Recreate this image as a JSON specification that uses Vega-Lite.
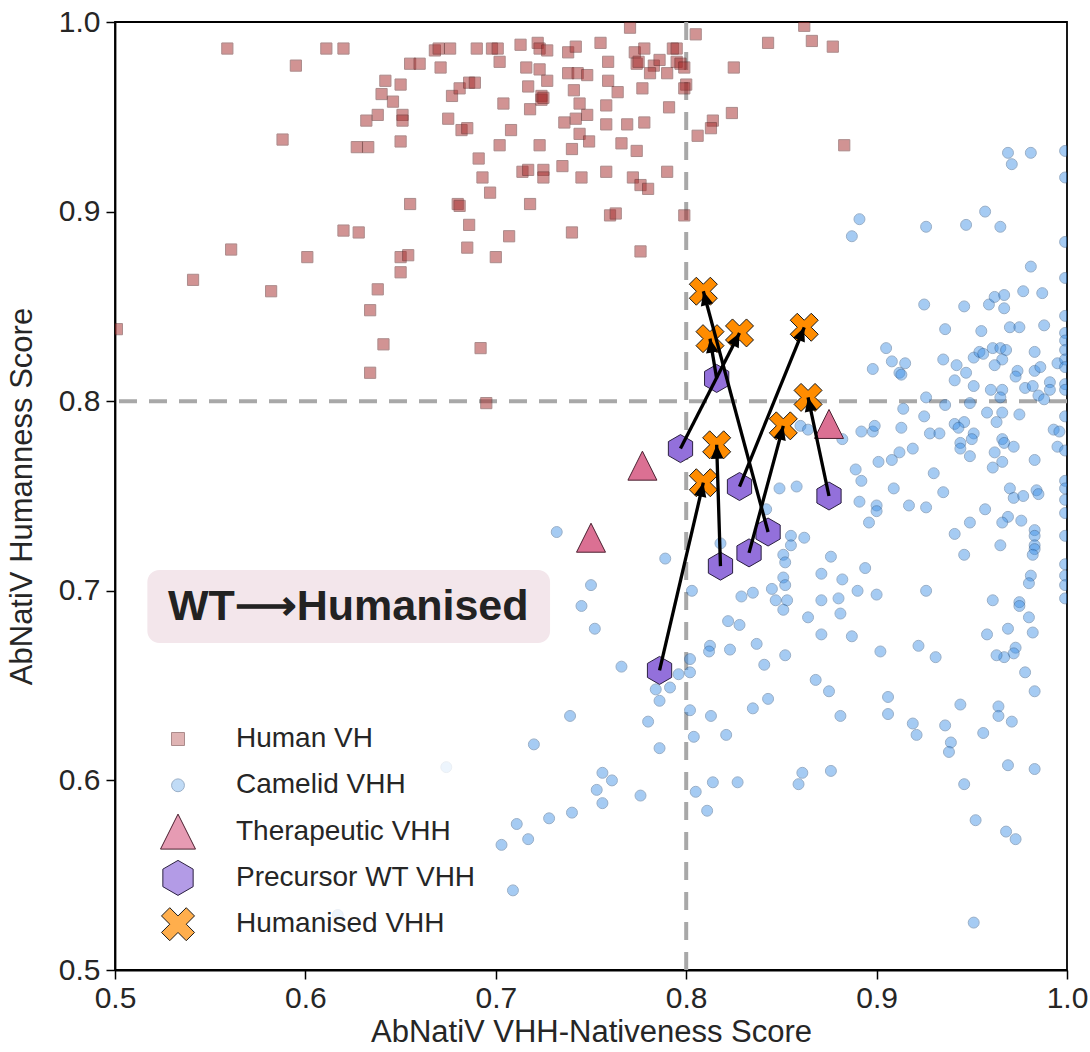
{
"$schema":"https://vega.github.io/schema/vega-lite/v6.json",
"width":952,"height":948,
"autosize":{"type":"none"},
"padding":{"left":115,"top":22,"right":23,"bottom":82},
"background":"white",
"config":{
 "view":{"stroke":"#000000","strokeWidth":1.8},
 "font":"Liberation Sans",
 "axis":{"grid":false,"labelFont":"Liberation Sans","labelFontSize":30,"labelColor":"#262626","titleFont":"Liberation Sans","titleFontSize":31,"titleFontWeight":"normal","titleColor":"#262626","tickColor":"#000000","tickSize":9,"tickWidth":1.5,"domainColor":"#000000","domainWidth":1.8,"labelFlush":false,"labelOverlap":false},
 "legend":{"labelFont":"Liberation Sans","labelFontSize":28,"labelColor":"#262626","fillColor":"rgba(255,255,255,0.8)","padding":12,"rowPadding":9.3,"labelOffset":40,"symbolStrokeWidth":1,"labelLimit":400,"gridAlign":"all","clipHeight":37}
},
"datasets":{
"arrows":[
{"wx":0.786,"wy":0.658,"hx":0.809,"hy":0.757},
{"wx":0.818,"wy":0.713,"hx":0.816,"hy":0.777},
{"wx":0.833,"wy":0.720,"hx":0.851,"hy":0.787},
{"wx":0.843,"wy":0.731,"hx":0.809,"hy":0.858},
{"wx":0.828,"wy":0.755,"hx":0.862,"hy":0.839},
{"wx":0.797,"wy":0.775,"hx":0.828,"hy":0.836},
{"wx":0.875,"wy":0.750,"hx":0.864,"hy":0.802},
{"wx":0.816,"wy":0.812,"hx":0.8125,"hy":0.833}
],
"points":[
{"group":"Human VH","x":0.559,"y":0.986},{"group":"Human VH","x":0.611,"y":0.986},{"group":"Human VH","x":0.620,"y":0.986},{"group":"Human VH","x":0.595,"y":0.977},{"group":"Human VH","x":0.668,"y":0.985},{"group":"Human VH","x":0.670,"y":0.986},{"group":"Human VH","x":0.676,"y":0.986},{"group":"Human VH","x":0.690,"y":0.986},{"group":"Human VH","x":0.655,"y":0.978},{"group":"Human VH","x":0.660,"y":0.978},{"group":"Human VH","x":0.671,"y":0.976},{"group":"Human VH","x":0.642,"y":0.969},{"group":"Human VH","x":0.650,"y":0.967},{"group":"Human VH","x":0.640,"y":0.962},{"group":"Human VH","x":0.646,"y":0.958},{"group":"Human VH","x":0.677,"y":0.961},{"group":"Human VH","x":0.681,"y":0.965},{"group":"Human VH","x":0.686,"y":0.968},{"group":"Human VH","x":0.689,"y":0.968},{"group":"Human VH","x":0.638,"y":0.951},{"group":"Human VH","x":0.651,"y":0.951},{"group":"Human VH","x":0.651,"y":0.948},{"group":"Human VH","x":0.632,"y":0.948},{"group":"Human VH","x":0.675,"y":0.949},{"group":"Human VH","x":0.682,"y":0.943},{"group":"Human VH","x":0.685,"y":0.944},{"group":"Human VH","x":0.650,"y":0.937},{"group":"Human VH","x":0.588,"y":0.938},{"group":"Human VH","x":0.627,"y":0.934},{"group":"Human VH","x":0.633,"y":0.934},{"group":"Human VH","x":0.691,"y":0.928},{"group":"Human VH","x":0.693,"y":0.918},{"group":"Human VH","x":0.697,"y":0.910},{"group":"Human VH","x":0.655,"y":0.904},{"group":"Human VH","x":0.680,"y":0.904},{"group":"Human VH","x":0.681,"y":0.903},{"group":"Human VH","x":0.686,"y":0.893},{"group":"Human VH","x":0.685,"y":0.881},{"group":"Human VH","x":0.620,"y":0.890},{"group":"Human VH","x":0.628,"y":0.889},{"group":"Human VH","x":0.561,"y":0.880},{"group":"Human VH","x":0.601,"y":0.876},{"group":"Human VH","x":0.650,"y":0.876},{"group":"Human VH","x":0.654,"y":0.877},{"group":"Human VH","x":0.650,"y":0.868},{"group":"Human VH","x":0.541,"y":0.864},{"group":"Human VH","x":0.582,"y":0.858},{"group":"Human VH","x":0.638,"y":0.859},{"group":"Human VH","x":0.634,"y":0.848},{"group":"Human VH","x":0.641,"y":0.830},{"group":"Human VH","x":0.692,"y":0.828},{"group":"Human VH","x":0.634,"y":0.815},{"group":"Human VH","x":0.501,"y":0.838},{"group":"Human VH","x":0.695,"y":0.799},
{"group":"Human VH","x":0.7705,"y":0.997},{"group":"Human VH","x":0.805,"y":0.9935},{"group":"Human VH","x":0.862,"y":0.998},{"group":"Human VH","x":0.843,"y":0.989},{"group":"Human VH","x":0.866,"y":0.990},{"group":"Human VH","x":0.877,"y":0.987},{"group":"Human VH","x":0.825,"y":0.976},{"group":"Human VH","x":0.824,"y":0.952},{"group":"Human VH","x":0.814,"y":0.948},{"group":"Human VH","x":0.813,"y":0.944},{"group":"Human VH","x":0.806,"y":0.940},{"group":"Human VH","x":0.883,"y":0.935},{"group":"Human VH","x":0.698,"y":0.986},{"group":"Human VH","x":0.701,"y":0.986},{"group":"Human VH","x":0.713,"y":0.988},{"group":"Human VH","x":0.722,"y":0.989},{"group":"Human VH","x":0.723,"y":0.986},{"group":"Human VH","x":0.727,"y":0.985},{"group":"Human VH","x":0.738,"y":0.984},{"group":"Human VH","x":0.742,"y":0.987},{"group":"Human VH","x":0.755,"y":0.989},{"group":"Human VH","x":0.773,"y":0.984},{"group":"Human VH","x":0.778,"y":0.986},{"group":"Human VH","x":0.793,"y":0.986},{"group":"Human VH","x":0.795,"y":0.986},{"group":"Human VH","x":0.702,"y":0.979},{"group":"Human VH","x":0.716,"y":0.976},{"group":"Human VH","x":0.723,"y":0.975},{"group":"Human VH","x":0.727,"y":0.969},{"group":"Human VH","x":0.759,"y":0.979},{"group":"Human VH","x":0.774,"y":0.978},{"group":"Human VH","x":0.775,"y":0.979},{"group":"Human VH","x":0.783,"y":0.977},{"group":"Human VH","x":0.786,"y":0.980},{"group":"Human VH","x":0.795,"y":0.979},{"group":"Human VH","x":0.797,"y":0.978},{"group":"Human VH","x":0.799,"y":0.976},{"group":"Human VH","x":0.738,"y":0.973},{"group":"Human VH","x":0.743,"y":0.973},{"group":"Human VH","x":0.748,"y":0.972},{"group":"Human VH","x":0.781,"y":0.973},{"group":"Human VH","x":0.790,"y":0.973},{"group":"Human VH","x":0.717,"y":0.966},{"group":"Human VH","x":0.741,"y":0.964},{"group":"Human VH","x":0.759,"y":0.969},{"group":"Human VH","x":0.764,"y":0.963},{"group":"Human VH","x":0.777,"y":0.965},{"group":"Human VH","x":0.800,"y":0.967},{"group":"Human VH","x":0.799,"y":0.965},{"group":"Human VH","x":0.724,"y":0.961},{"group":"Human VH","x":0.724,"y":0.959},{"group":"Human VH","x":0.725,"y":0.960},{"group":"Human VH","x":0.704,"y":0.957},{"group":"Human VH","x":0.718,"y":0.954},{"group":"Human VH","x":0.744,"y":0.957},{"group":"Human VH","x":0.748,"y":0.951},{"group":"Human VH","x":0.742,"y":0.949},{"group":"Human VH","x":0.736,"y":0.947},{"group":"Human VH","x":0.758,"y":0.956},{"group":"Human VH","x":0.791,"y":0.955},{"group":"Human VH","x":0.758,"y":0.946},{"group":"Human VH","x":0.769,"y":0.946},{"group":"Human VH","x":0.778,"y":0.947},{"group":"Human VH","x":0.708,"y":0.943},{"group":"Human VH","x":0.702,"y":0.935},{"group":"Human VH","x":0.723,"y":0.935},{"group":"Human VH","x":0.744,"y":0.941},{"group":"Human VH","x":0.749,"y":0.937},{"group":"Human VH","x":0.740,"y":0.933},{"group":"Human VH","x":0.766,"y":0.936},{"group":"Human VH","x":0.774,"y":0.932},{"group":"Human VH","x":0.714,"y":0.921},{"group":"Human VH","x":0.717,"y":0.922},{"group":"Human VH","x":0.725,"y":0.922},{"group":"Human VH","x":0.725,"y":0.918},{"group":"Human VH","x":0.735,"y":0.924},{"group":"Human VH","x":0.745,"y":0.918},{"group":"Human VH","x":0.758,"y":0.921},{"group":"Human VH","x":0.772,"y":0.918},{"group":"Human VH","x":0.776,"y":0.914},{"group":"Human VH","x":0.780,"y":0.912},{"group":"Human VH","x":0.790,"y":0.921},{"group":"Human VH","x":0.718,"y":0.904},{"group":"Human VH","x":0.760,"y":0.898},{"group":"Human VH","x":0.763,"y":0.899},{"group":"Human VH","x":0.799,"y":0.898},{"group":"Human VH","x":0.707,"y":0.887},{"group":"Human VH","x":0.700,"y":0.876},{"group":"Human VH","x":0.740,"y":0.889},{"group":"Human VH","x":0.776,"y":0.879},
{"group":"Camelid VHH","x":0.891,"y":0.896},{"group":"Camelid VHH","x":0.887,"y":0.887},{"group":"Camelid VHH","x":0.905,"y":0.828},{"group":"Camelid VHH","x":0.908,"y":0.821},{"group":"Camelid VHH","x":0.898,"y":0.817},{"group":"Camelid VHH","x":0.912,"y":0.815},{"group":"Camelid VHH","x":0.969,"y":0.931},{"group":"Camelid VHH","x":0.971,"y":0.925},{"group":"Camelid VHH","x":0.981,"y":0.931},{"group":"Camelid VHH","x":0.999,"y":0.932},{"group":"Camelid VHH","x":0.999,"y":0.918},{"group":"Camelid VHH","x":0.926,"y":0.892},{"group":"Camelid VHH","x":0.947,"y":0.893},{"group":"Camelid VHH","x":0.957,"y":0.900},{"group":"Camelid VHH","x":0.965,"y":0.892},{"group":"Camelid VHH","x":0.999,"y":0.884},{"group":"Camelid VHH","x":0.981,"y":0.871},{"group":"Camelid VHH","x":0.999,"y":0.865},{"group":"Camelid VHH","x":0.925,"y":0.851},{"group":"Camelid VHH","x":0.946,"y":0.850},{"group":"Camelid VHH","x":0.959,"y":0.851},{"group":"Camelid VHH","x":0.962,"y":0.855},{"group":"Camelid VHH","x":0.967,"y":0.856},{"group":"Camelid VHH","x":0.967,"y":0.849},{"group":"Camelid VHH","x":0.977,"y":0.858},{"group":"Camelid VHH","x":0.987,"y":0.857},{"group":"Camelid VHH","x":0.999,"y":0.845},{"group":"Camelid VHH","x":0.936,"y":0.838},{"group":"Camelid VHH","x":0.955,"y":0.837},{"group":"Camelid VHH","x":0.970,"y":0.839},{"group":"Camelid VHH","x":0.975,"y":0.839},{"group":"Camelid VHH","x":0.988,"y":0.840},{"group":"Camelid VHH","x":0.999,"y":0.836},{"group":"Camelid VHH","x":0.999,"y":0.832},{"group":"Camelid VHH","x":0.915,"y":0.820},{"group":"Camelid VHH","x":0.913,"y":0.814},{"group":"Camelid VHH","x":0.935,"y":0.822},{"group":"Camelid VHH","x":0.942,"y":0.819},{"group":"Camelid VHH","x":0.947,"y":0.815},{"group":"Camelid VHH","x":0.941,"y":0.811},{"group":"Camelid VHH","x":0.951,"y":0.823},{"group":"Camelid VHH","x":0.954,"y":0.826},{"group":"Camelid VHH","x":0.956,"y":0.825},{"group":"Camelid VHH","x":0.961,"y":0.828},{"group":"Camelid VHH","x":0.965,"y":0.828},{"group":"Camelid VHH","x":0.968,"y":0.827},{"group":"Camelid VHH","x":0.966,"y":0.822},{"group":"Camelid VHH","x":0.962,"y":0.819},{"group":"Camelid VHH","x":0.983,"y":0.826},{"group":"Camelid VHH","x":0.974,"y":0.816},{"group":"Camelid VHH","x":0.973,"y":0.813},{"group":"Camelid VHH","x":0.983,"y":0.816},{"group":"Camelid VHH","x":0.986,"y":0.818},{"group":"Camelid VHH","x":0.995,"y":0.820},{"group":"Camelid VHH","x":0.999,"y":0.827},{"group":"Camelid VHH","x":0.999,"y":0.822},{"group":"Camelid VHH","x":0.999,"y":0.818},{"group":"Camelid VHH","x":0.951,"y":0.808},{"group":"Camelid VHH","x":0.960,"y":0.806},{"group":"Camelid VHH","x":0.966,"y":0.806},{"group":"Camelid VHH","x":0.965,"y":0.802},{"group":"Camelid VHH","x":0.978,"y":0.807},{"group":"Camelid VHH","x":0.982,"y":0.808},{"group":"Camelid VHH","x":0.985,"y":0.803},{"group":"Camelid VHH","x":0.988,"y":0.801},{"group":"Camelid VHH","x":0.991,"y":0.810},{"group":"Camelid VHH","x":0.991,"y":0.806},{"group":"Camelid VHH","x":0.999,"y":0.809},{"group":"Camelid VHH","x":0.999,"y":0.806},{"group":"Camelid VHH","x":0.926,"y":0.802},{"group":"Camelid VHH","x":0.936,"y":0.798},{"group":"Camelid VHH","x":0.949,"y":0.799},{"group":"Camelid VHH","x":0.914,"y":0.796},{"group":"Camelid VHH","x":0.925,"y":0.792},{"group":"Camelid VHH","x":0.958,"y":0.794},{"group":"Camelid VHH","x":0.963,"y":0.789},{"group":"Camelid VHH","x":0.966,"y":0.794},{"group":"Camelid VHH","x":0.975,"y":0.793},{"group":"Camelid VHH","x":0.999,"y":0.792},{"group":"Camelid VHH","x":0.892,"y":0.784},{"group":"Camelid VHH","x":0.898,"y":0.784},{"group":"Camelid VHH","x":0.899,"y":0.787},{"group":"Camelid VHH","x":0.913,"y":0.786},{"group":"Camelid VHH","x":0.928,"y":0.783},{"group":"Camelid VHH","x":0.933,"y":0.783},{"group":"Camelid VHH","x":0.941,"y":0.788},{"group":"Camelid VHH","x":0.946,"y":0.789},{"group":"Camelid VHH","x":0.943,"y":0.786},{"group":"Camelid VHH","x":0.951,"y":0.783},{"group":"Camelid VHH","x":0.950,"y":0.780},{"group":"Camelid VHH","x":0.944,"y":0.778},{"group":"Camelid VHH","x":0.966,"y":0.780},{"group":"Camelid VHH","x":0.967,"y":0.778},{"group":"Camelid VHH","x":0.972,"y":0.776},{"group":"Camelid VHH","x":0.962,"y":0.773},{"group":"Camelid VHH","x":0.944,"y":0.775},{"group":"Camelid VHH","x":0.949,"y":0.771},{"group":"Camelid VHH","x":0.961,"y":0.765},{"group":"Camelid VHH","x":0.966,"y":0.768},{"group":"Camelid VHH","x":0.983,"y":0.769},{"group":"Camelid VHH","x":0.993,"y":0.785},{"group":"Camelid VHH","x":0.996,"y":0.784},{"group":"Camelid VHH","x":0.995,"y":0.776},{"group":"Camelid VHH","x":0.999,"y":0.774},{"group":"Camelid VHH","x":0.999,"y":0.758},{"group":"Camelid VHH","x":0.999,"y":0.754},{"group":"Camelid VHH","x":0.999,"y":0.748},{"group":"Camelid VHH","x":0.999,"y":0.741},{"group":"Camelid VHH","x":0.999,"y":0.729},{"group":"Camelid VHH","x":0.919,"y":0.775},{"group":"Camelid VHH","x":0.912,"y":0.773},{"group":"Camelid VHH","x":0.908,"y":0.769},{"group":"Camelid VHH","x":0.901,"y":0.768},{"group":"Camelid VHH","x":0.889,"y":0.764},{"group":"Camelid VHH","x":0.892,"y":0.758},{"group":"Camelid VHH","x":0.891,"y":0.747},{"group":"Camelid VHH","x":0.900,"y":0.745},{"group":"Camelid VHH","x":0.900,"y":0.742},{"group":"Camelid VHH","x":0.896,"y":0.736},{"group":"Camelid VHH","x":0.909,"y":0.754},{"group":"Camelid VHH","x":0.930,"y":0.762},{"group":"Camelid VHH","x":0.935,"y":0.752},{"group":"Camelid VHH","x":0.917,"y":0.745},{"group":"Camelid VHH","x":0.926,"y":0.744},{"group":"Camelid VHH","x":0.957,"y":0.743},{"group":"Camelid VHH","x":0.970,"y":0.754},{"group":"Camelid VHH","x":0.972,"y":0.749},{"group":"Camelid VHH","x":0.977,"y":0.750},{"group":"Camelid VHH","x":0.984,"y":0.753},{"group":"Camelid VHH","x":0.985,"y":0.751},{"group":"Camelid VHH","x":0.969,"y":0.739},{"group":"Camelid VHH","x":0.966,"y":0.736},{"group":"Camelid VHH","x":0.976,"y":0.737},{"group":"Camelid VHH","x":0.949,"y":0.736},{"group":"Camelid VHH","x":0.941,"y":0.730},{"group":"Camelid VHH","x":0.983,"y":0.732},{"group":"Camelid VHH","x":0.983,"y":0.729},{"group":"Camelid VHH","x":0.983,"y":0.724},{"group":"Camelid VHH","x":0.965,"y":0.724},
{"group":"Camelid VHH","x":0.946,"y":0.719},{"group":"Camelid VHH","x":0.983,"y":0.722},{"group":"Camelid VHH","x":0.982,"y":0.719},{"group":"Camelid VHH","x":0.999,"y":0.714},{"group":"Camelid VHH","x":0.999,"y":0.708},{"group":"Camelid VHH","x":0.999,"y":0.703},{"group":"Camelid VHH","x":0.999,"y":0.696},{"group":"Camelid VHH","x":0.876,"y":0.718},{"group":"Camelid VHH","x":0.894,"y":0.712},{"group":"Camelid VHH","x":0.871,"y":0.709},{"group":"Camelid VHH","x":0.882,"y":0.706},{"group":"Camelid VHH","x":0.890,"y":0.700},{"group":"Camelid VHH","x":0.900,"y":0.698},{"group":"Camelid VHH","x":0.871,"y":0.695},{"group":"Camelid VHH","x":0.880,"y":0.696},{"group":"Camelid VHH","x":0.881,"y":0.688},{"group":"Camelid VHH","x":0.926,"y":0.700},{"group":"Camelid VHH","x":0.981,"y":0.708},{"group":"Camelid VHH","x":0.980,"y":0.704},{"group":"Camelid VHH","x":0.961,"y":0.695},{"group":"Camelid VHH","x":0.975,"y":0.694},{"group":"Camelid VHH","x":0.975,"y":0.692},{"group":"Camelid VHH","x":0.980,"y":0.686},{"group":"Camelid VHH","x":0.982,"y":0.678},{"group":"Camelid VHH","x":0.958,"y":0.677},{"group":"Camelid VHH","x":0.969,"y":0.680},{"group":"Camelid VHH","x":0.973,"y":0.670},{"group":"Camelid VHH","x":0.972,"y":0.667},{"group":"Camelid VHH","x":0.967,"y":0.665},{"group":"Camelid VHH","x":0.963,"y":0.666},{"group":"Camelid VHH","x":0.871,"y":0.677},{"group":"Camelid VHH","x":0.887,"y":0.676},{"group":"Camelid VHH","x":0.902,"y":0.668},{"group":"Camelid VHH","x":0.922,"y":0.671},{"group":"Camelid VHH","x":0.931,"y":0.665},{"group":"Camelid VHH","x":0.978,"y":0.657},{"group":"Camelid VHH","x":0.983,"y":0.647},{"group":"Camelid VHH","x":0.875,"y":0.647},{"group":"Camelid VHH","x":0.881,"y":0.634},{"group":"Camelid VHH","x":0.906,"y":0.644},{"group":"Camelid VHH","x":0.906,"y":0.635},{"group":"Camelid VHH","x":0.919,"y":0.630},{"group":"Camelid VHH","x":0.921,"y":0.624},{"group":"Camelid VHH","x":0.936,"y":0.629},{"group":"Camelid VHH","x":0.939,"y":0.620},{"group":"Camelid VHH","x":0.938,"y":0.615},{"group":"Camelid VHH","x":0.944,"y":0.640},{"group":"Camelid VHH","x":0.956,"y":0.625},{"group":"Camelid VHH","x":0.964,"y":0.639},{"group":"Camelid VHH","x":0.964,"y":0.634},{"group":"Camelid VHH","x":0.971,"y":0.631},{"group":"Camelid VHH","x":0.969,"y":0.608},{"group":"Camelid VHH","x":0.983,"y":0.606},{"group":"Camelid VHH","x":0.876,"y":0.605},{"group":"Camelid VHH","x":0.946,"y":0.598},{"group":"Camelid VHH","x":0.952,"y":0.579},{"group":"Camelid VHH","x":0.968,"y":0.573},{"group":"Camelid VHH","x":0.973,"y":0.569},{"group":"Camelid VHH","x":0.951,"y":0.525},
{"group":"Camelid VHH","x":0.860,"y":0.787},{"group":"Camelid VHH","x":0.864,"y":0.785},{"group":"Camelid VHH","x":0.882,"y":0.780},{"group":"Camelid VHH","x":0.849,"y":0.754},{"group":"Camelid VHH","x":0.858,"y":0.755},{"group":"Camelid VHH","x":0.842,"y":0.743},{"group":"Camelid VHH","x":0.855,"y":0.729},{"group":"Camelid VHH","x":0.855,"y":0.724},{"group":"Camelid VHH","x":0.862,"y":0.728},{"group":"Camelid VHH","x":0.818,"y":0.725},{"group":"Camelid VHH","x":0.851,"y":0.719},{"group":"Camelid VHH","x":0.852,"y":0.715},{"group":"Camelid VHH","x":0.851,"y":0.707},{"group":"Camelid VHH","x":0.852,"y":0.703},{"group":"Camelid VHH","x":0.845,"y":0.701},{"group":"Camelid VHH","x":0.853,"y":0.695},{"group":"Camelid VHH","x":0.847,"y":0.695},{"group":"Camelid VHH","x":0.851,"y":0.690},{"group":"Camelid VHH","x":0.829,"y":0.697},{"group":"Camelid VHH","x":0.835,"y":0.699},{"group":"Camelid VHH","x":0.803,"y":0.700},{"group":"Camelid VHH","x":0.822,"y":0.684},{"group":"Camelid VHH","x":0.828,"y":0.682},{"group":"Camelid VHH","x":0.864,"y":0.686},{"group":"Camelid VHH","x":0.789,"y":0.717},{"group":"Camelid VHH","x":0.750,"y":0.703},{"group":"Camelid VHH","x":0.745,"y":0.692},{"group":"Camelid VHH","x":0.752,"y":0.680},{"group":"Camelid VHH","x":0.766,"y":0.660},{"group":"Camelid VHH","x":0.8125,"y":0.671},{"group":"Camelid VHH","x":0.812,"y":0.668},{"group":"Camelid VHH","x":0.823,"y":0.669},{"group":"Camelid VHH","x":0.837,"y":0.672},{"group":"Camelid VHH","x":0.841,"y":0.661},{"group":"Camelid VHH","x":0.852,"y":0.666},{"group":"Camelid VHH","x":0.802,"y":0.664},{"group":"Camelid VHH","x":0.802,"y":0.657},{"group":"Camelid VHH","x":0.796,"y":0.656},{"group":"Camelid VHH","x":0.7915,"y":0.649},{"group":"Camelid VHH","x":0.784,"y":0.648},{"group":"Camelid VHH","x":0.786,"y":0.642},{"group":"Camelid VHH","x":0.868,"y":0.653},{"group":"Camelid VHH","x":0.843,"y":0.643},{"group":"Camelid VHH","x":0.835,"y":0.638},{"group":"Camelid VHH","x":0.802,"y":0.637},
{"group":"Camelid VHH","x":0.732,"y":0.731},{"group":"Camelid VHH","x":0.813,"y":0.634},{"group":"Camelid VHH","x":0.821,"y":0.624},{"group":"Camelid VHH","x":0.804,"y":0.623},{"group":"Camelid VHH","x":0.739,"y":0.634},{"group":"Camelid VHH","x":0.780,"y":0.631},{"group":"Camelid VHH","x":0.786,"y":0.617},{"group":"Camelid VHH","x":0.720,"y":0.619},{"group":"Camelid VHH","x":0.674,"y":0.607},{"group":"Camelid VHH","x":0.756,"y":0.604},{"group":"Camelid VHH","x":0.761,"y":0.600},{"group":"Camelid VHH","x":0.753,"y":0.595},{"group":"Camelid VHH","x":0.756,"y":0.588},{"group":"Camelid VHH","x":0.776,"y":0.592},{"group":"Camelid VHH","x":0.740,"y":0.583},{"group":"Camelid VHH","x":0.728,"y":0.580},{"group":"Camelid VHH","x":0.717,"y":0.569},{"group":"Camelid VHH","x":0.711,"y":0.577},{"group":"Camelid VHH","x":0.703,"y":0.566},{"group":"Camelid VHH","x":0.709,"y":0.542},{"group":"Camelid VHH","x":0.805,"y":0.594},{"group":"Camelid VHH","x":0.814,"y":0.599},{"group":"Camelid VHH","x":0.827,"y":0.599},{"group":"Camelid VHH","x":0.811,"y":0.584},{"group":"Camelid VHH","x":0.861,"y":0.604},{"group":"Camelid VHH","x":0.859,"y":0.598},{"group":"Camelid VHH","x":0.617,"y":0.529},
{"group":"Therapeutic VHH","x":0.777,"y":0.766},{"group":"Therapeutic VHH","x":0.750,"y":0.728},{"group":"Therapeutic VHH","x":0.875,"y":0.788},
{"group":"Precursor WT VHH","x":0.816,"y":0.812},{"group":"Precursor WT VHH","x":0.797,"y":0.775},{"group":"Precursor WT VHH","x":0.828,"y":0.755},{"group":"Precursor WT VHH","x":0.875,"y":0.750},{"group":"Precursor WT VHH","x":0.843,"y":0.731},{"group":"Precursor WT VHH","x":0.833,"y":0.720},{"group":"Precursor WT VHH","x":0.818,"y":0.713},{"group":"Precursor WT VHH","x":0.786,"y":0.658},
{"group":"Humanised VHH","x":0.809,"y":0.858},{"group":"Humanised VHH","x":0.8125,"y":0.833},{"group":"Humanised VHH","x":0.828,"y":0.836},{"group":"Humanised VHH","x":0.862,"y":0.839},{"group":"Humanised VHH","x":0.864,"y":0.802},{"group":"Humanised VHH","x":0.851,"y":0.787},{"group":"Humanised VHH","x":0.816,"y":0.777},{"group":"Humanised VHH","x":0.809,"y":0.757}
]
},
"resolve":{"scale":{"fill":"independent","stroke":"independent","shape":"independent","size":"independent","opacity":"independent"}},
"layer":[
{"data":{"values":[{"threshold":0.8}]},
 "mark":{"type":"rule","strokeDash":[18,12],"strokeWidth":4,"color":"#a8a8a8"},
 "encoding":{"x":{"field":"threshold","type":"quantitative","scale":{"domain":[0.5,1.0],"nice":false,"zero":false}}}},
{"data":{"values":[{"threshold":0.8}]},
 "mark":{"type":"rule","strokeDash":[18,12],"strokeWidth":4,"color":"#a8a8a8"},
 "encoding":{"y":{"field":"threshold","type":"quantitative","scale":{"domain":[0.5,1.0],"nice":false,"zero":false}}}},
{"data":{"values":[{"label":"WT⟶Humanised"}]},
 "mark":{"type":"rect","cornerRadius":12,"fill":"#f3e6eb"},
 "encoding":{"x":{"datum":0.517,"type":"quantitative"},"x2":{"datum":0.7285},"y":{"datum":0.711,"type":"quantitative"},"y2":{"datum":0.6725}}},
{"data":{"values":[{"label":"WT⟶Humanised"}]},
 "mark":{"type":"text","fontSize":43,"fontWeight":"bold","font":"Liberation Sans","color":"#222222","align":"center","baseline":"middle"},
 "encoding":{"x":{"datum":0.6225,"type":"quantitative"},"y":{"datum":0.6915,"type":"quantitative"},"text":{"field":"label"}}},
{"data":{"name":"points"},
 "mark":{"type":"point","filled":true,"strokeWidth":1,"clip":true},
 "encoding":{
  "x":{"field":"x","type":"quantitative","scale":{"domain":[0.5,1.0],"nice":false,"zero":false},"axis":{"values":[0.5,0.6,0.7,0.8,0.9,1.0],"format":".1f","title":"AbNatiV VHH-Nativeness Score","labelPadding":4,"titlePadding":4}},
  "y":{"field":"y","type":"quantitative","scale":{"domain":[0.5,1.0],"nice":false,"zero":false},"axis":{"values":[0.5,0.6,0.7,0.8,0.9,1.0],"format":".1f","title":"AbNatiV Humanness Score","labelPadding":6,"titlePadding":20}},
  "fill":{"field":"group","type":"nominal","legend":null,"scale":{"type":"ordinal","domain":["Human VH","Camelid VHH","Therapeutic VHH","Precursor WT VHH","Humanised VHH"],"range":["#a52a2a","#3a8ee6","#db7093","#9370db","#ff8c00"]}},
  "stroke":{"field":"group","type":"nominal","legend":null,"scale":{"type":"ordinal","domain":["Human VH","Camelid VHH","Therapeutic VHH","Precursor WT VHH","Humanised VHH"],"range":["#5a1a1a","#1f4f85","#4a2030","#2b2040","#1a1a1a"]}},
  "shape":{"field":"group","type":"nominal","legend":null,"scale":{"type":"ordinal","domain":["Human VH","Camelid VHH","Therapeutic VHH","Precursor WT VHH","Humanised VHH"],"range":["square","circle","M0,-1L1,1L-1,1Z","M0,-1L0.866,-0.5L0.866,0.5L0,1L-0.866,0.5L-0.866,-0.5Z","M-1,-0.5L-0.5,-1L0,-0.5L0.5,-1L1,-0.5L0.5,0L1,0.5L0.5,1L0,0.5L-0.5,1L-1,0.5L-0.5,0Z"]}},
  "size":{"field":"group","type":"nominal","legend":null,"scale":{"type":"ordinal","domain":["Human VH","Camelid VHH","Therapeutic VHH","Precursor WT VHH","Humanised VHH"],"range":[125,120,841,784,784]}},
  "opacity":{"field":"group","type":"nominal","legend":null,"scale":{"type":"ordinal","domain":["Human VH","Camelid VHH","Therapeutic VHH","Precursor WT VHH","Humanised VHH"],"range":[0.5,0.45,1,1,1]}}
 }},
{"data":{"name":"arrows"},
 "mark":{"type":"rule","color":"#000000","strokeWidth":3.3},
 "encoding":{"x":{"field":"wx","type":"quantitative"},"y":{"field":"wy","type":"quantitative"},"x2":{"field":"hx"},"y2":{"field":"hy"}}},
{"data":{"name":"arrows"},
 "mark":{"type":"point","shape":"M0,0L-0.45,1L0.45,1Z","size":784,"filled":true,"color":"#000000","opacity":1,"angle":{"expr":"atan2(datum.hx - datum.wx, datum.hy - datum.wy) * 180 / PI"}},
 "encoding":{"x":{"field":"hx","type":"quantitative"},"y":{"field":"hy","type":"quantitative"}}},
{"data":{"values":[]},
 "mark":{"type":"point","filled":true,"strokeWidth":1},
 "encoding":{
  "x":{"field":"x","type":"quantitative"},
  "y":{"field":"y","type":"quantitative"},
  "fill":{"field":"group","type":"nominal","scale":{"type":"ordinal","domain":["Human VH","Camelid VHH","Therapeutic VHH","Precursor WT VHH","Humanised VHH"],"range":["#a52a2a","#3a8ee6","#db7093","#9370db","#ff8c00"]},"legend":{"title":null,"orient":"none","legendX":33,"legendY":686.5}},
  "stroke":{"field":"group","type":"nominal","scale":{"type":"ordinal","domain":["Human VH","Camelid VHH","Therapeutic VHH","Precursor WT VHH","Humanised VHH"],"range":["#5a1a1a","#1f4f85","#4a2030","#2b2040","#1a1a1a"]},"legend":{"title":null,"orient":"none","legendX":33,"legendY":686.5}},
  "shape":{"field":"group","type":"nominal","scale":{"type":"ordinal","domain":["Human VH","Camelid VHH","Therapeutic VHH","Precursor WT VHH","Humanised VHH"],"range":["square","circle","M0,-1L1,1L-1,1Z","M0,-1L0.866,-0.5L0.866,0.5L0,1L-0.866,0.5L-0.866,-0.5Z","M-1,-0.5L-0.5,-1L0,-0.5L0.5,-1L1,-0.5L0.5,0L1,0.5L0.5,1L0,0.5L-0.5,1L-1,0.5L-0.5,0Z"]},"legend":{"title":null,"orient":"none","legendX":33,"legendY":686.5}},
  "size":{"field":"group","type":"nominal","scale":{"type":"ordinal","domain":["Human VH","Camelid VHH","Therapeutic VHH","Precursor WT VHH","Humanised VHH"],"range":[169,165,1225,1225,1089]},"legend":{"title":null,"orient":"none","legendX":33,"legendY":686.5}},
  "opacity":{"field":"group","type":"nominal","scale":{"type":"ordinal","domain":["Human VH","Camelid VHH","Therapeutic VHH","Precursor WT VHH","Humanised VHH"],"range":[0.5,0.45,1,1,1]},"legend":{"title":null,"orient":"none","legendX":33,"legendY":686.5}}
 }}
]
}
